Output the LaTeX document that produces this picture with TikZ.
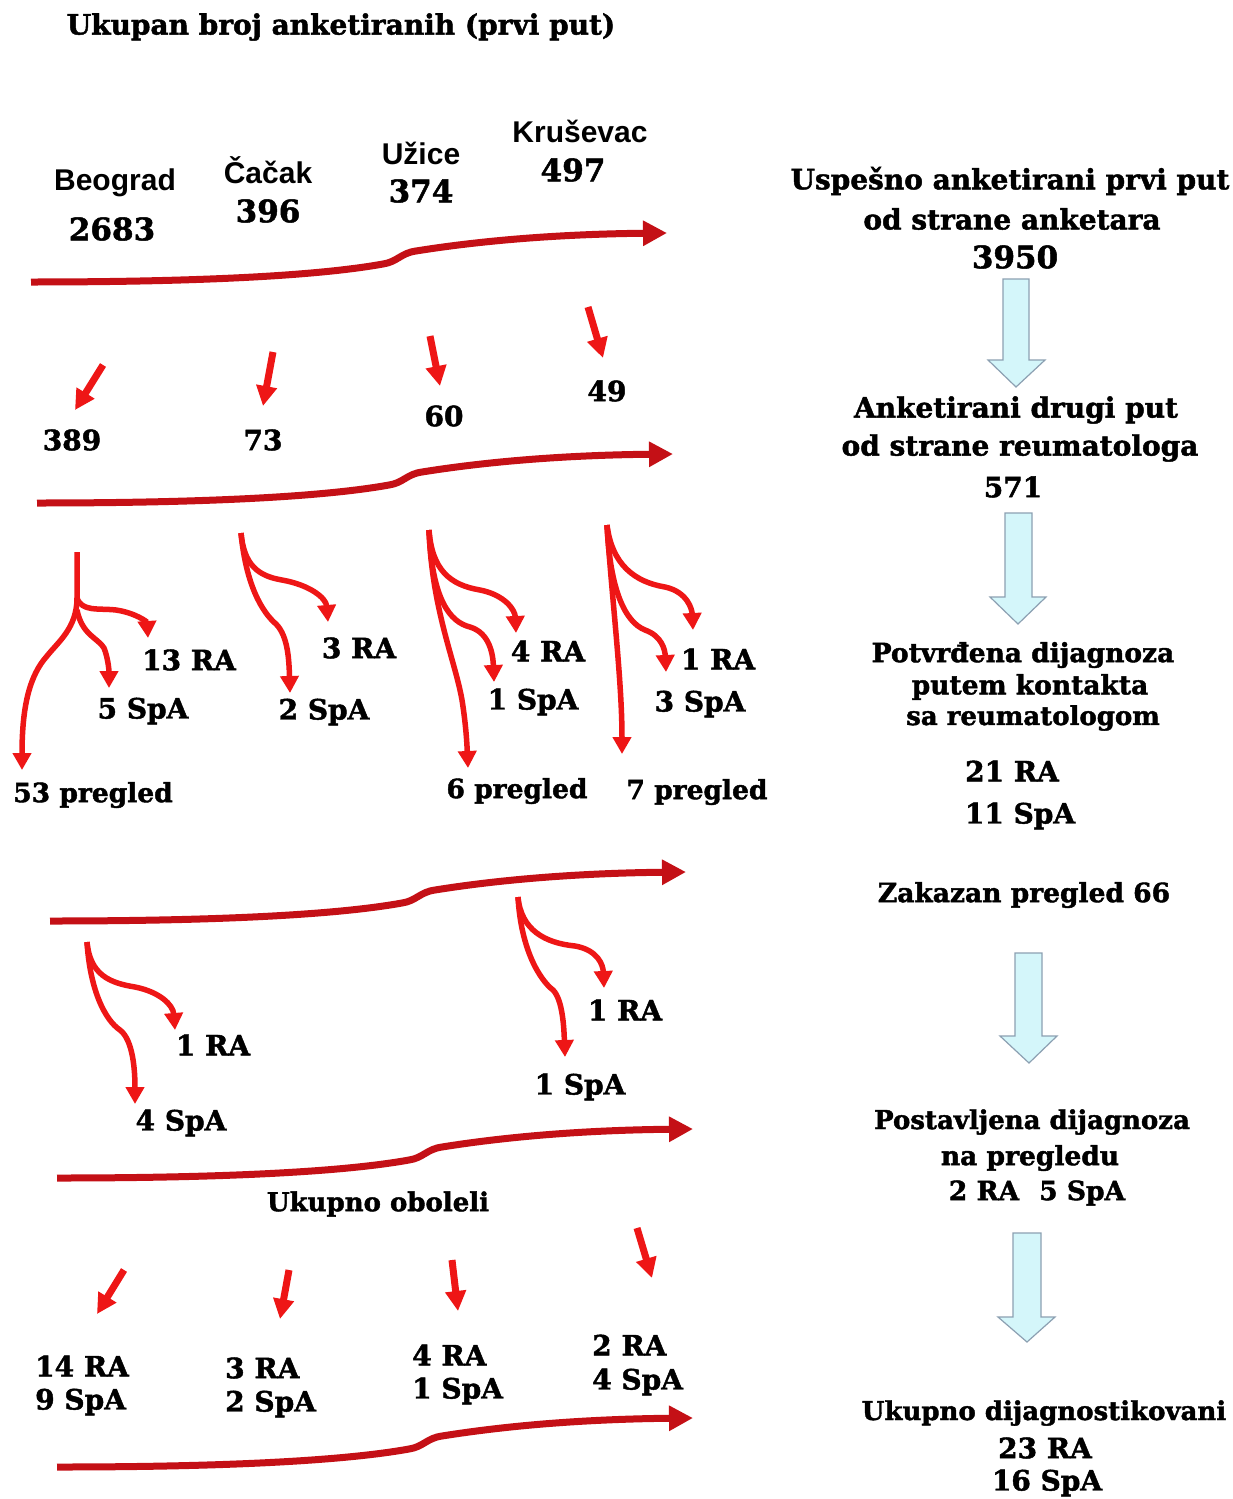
\documentclass[tikz,border=0pt]{standalone}
\usepackage{fontspec}
\setmainfont{DejaVu Serif}[BoldFont={DejaVu Serif Bold}, BoldFeatures={FakeBold=1.6}]
\newfontfamily\citysans{Liberation Sans}
\usetikzlibrary{arrows.meta}
\definecolor{flowred}{RGB}{196,16,22}
\definecolor{brred}{RGB}{238,22,22}
\definecolor{blkfill}{RGB}{212,246,250}
\definecolor{blkline}{RGB}{140,160,178}
\tikzset{
  hv/.style={font=\fontsize{28}{32}\selectfont\bfseries, inner sep=0pt},
  hvs/.style={font=\fontsize{26.5}{30}\selectfont\bfseries, inner sep=0pt},
  hvxs/.style={font=\fontsize{26}{30}\selectfont\bfseries, inner sep=0pt},
  hvbig/.style={font=\fontsize{31}{35}\selectfont\bfseries, inner sep=0pt},
  city/.style={font=\citysans\fontsize{30}{34}\selectfont\bfseries, inner sep=0pt},
  flowarrow/.style={draw=flowred, line width=7pt, -{Triangle[length=24pt,width=24pt]}},
  smallarrow/.style={draw=brred, line width=7pt, -{Triangle[length=20pt,width=20pt]}},
  brancharrow/.style={draw=brred, line width=5.5pt, -{Triangle[length=17pt,width=18pt]}},
  blockarrow/.style={fill=blkfill, draw=blkline, line width=1.2pt, line join=miter},
}
\begin{document}
\begin{tikzpicture}[x=1pt,y=-1pt]
\useasboundingbox[fill=white] (0,0) rectangle (1233,1499);

% ---------- title ----------
\node[hv] (title) at (341,27) {Ukupan broj anketiranih (prvi put)};

% ---------- cities ----------
\node[city] (bg) at (115,183) {Beograd};
\node[hvbig] (bgn) at (112,229) {2683};
\node[city] (ca) at (268,170) {Čačak};
\node[hvbig] (can) at (268,211) {396};
\node[city] (uz) at (421,153) {Užice};
\node[hvbig] (uzn) at (421,191) {374};
\node[city] (kr) at (580,131) {Kruševac};
\node[hvbig] (krn) at (573,170) {497};

% ---------- flow arrows ----------
\foreach \xo/\yo in {31/282, 37/503, 50/921, 57/1178, 57/1467}{
  \draw[flowarrow, shift={(\xo,\yo)}] (0,0) .. controls (150,0) and (280,-5) .. (352,-18)
     .. controls (366,-20) and (370,-29) .. (385,-31)
     .. controls (460,-43) and (540,-48) .. (636,-49);
}

% ---------- first row of small arrows ----------
\coordinate (a1s) at (103,365); \coordinate (a1e) at (75,410);
\coordinate (a2s) at (273,352); \coordinate (a2e) at (263,406);
\coordinate (a3s) at (430,336); \coordinate (a3e) at (440,386);
\coordinate (a4s) at (588,307); \coordinate (a4e) at (603,358);
\draw[smallarrow] (a1s) -- (a1e);
\draw[smallarrow] (a2s) -- (a2e);
\draw[smallarrow] (a3s) -- (a3e);
\draw[smallarrow] (a4s) -- (a4e);
\node[hv] (n389) at (72,440) {389};
\node[hv] (n73) at (263,440) {73};
\node[hv] (n60) at (444,416) {60};
\node[hv] (n49) at (607,391) {49};

% ---------- branch arrows (second stage) ----------
% Beograd
\coordinate (b1) at (77,552); \coordinate (b1k) at (77,598);
\draw[brancharrow] (b1) -- (b1k) .. controls (77,628) and (58,642) .. (47,656)
   .. controls (30,675) and (22,705) .. (22,770);
\draw[brancharrow] (b1k) .. controls (82,612) and (98,608) .. (116,610)
   .. controls (136,613) and (147,622) .. (148,638);
\draw[brancharrow] (77,610) .. controls (82,635) and (98,638) .. (104,648)
   .. controls (108,658) and (109,670) .. (109,688);
\node[hv] (b13ra) at (189,660) {13 RA};
\node[hv] (b5spa) at (143,711) {5 SpA};
\node[hvs] (b53) at (93,795) {53 pregled};
% Cacak
\coordinate (c1) at (241,533);
\draw[brancharrow] (c1) .. controls (244,565) and (258,576) .. (282,580)
   .. controls (310,585) and (326,598) .. (328,622);
\draw[brancharrow] (c1) .. controls (246,585) and (262,612) .. (276,624)
   .. controls (288,636) and (289,660) .. (290,693);
\node[hv] (c3ra) at (359,648) {3 RA};
\node[hv] (c2spa) at (324,712) {2 SpA};
% Uzice
\coordinate (u1) at (429,530);
\draw[brancharrow] (u1) .. controls (432,570) and (450,585) .. (480,590)
   .. controls (505,595) and (515,610) .. (516,633);
\draw[brancharrow] (u1) .. controls (432,600) and (450,622) .. (470,627)
   .. controls (490,633) and (493,655) .. (494,682);
\draw[brancharrow] (u1) .. controls (432,610) and (455,660) .. (462,700)
   .. controls (466,725) and (467,745) .. (468,768);
\node[hv] (u4ra) at (548,651) {4 RA};
\node[hv] (u1spa) at (533,702) {1 SpA};
\node[hvs] (u6) at (517,791) {6 pregled};
% Krusevac
\coordinate (k1) at (607,525);
\draw[brancharrow] (k1) .. controls (612,565) and (635,582) .. (665,587)
   .. controls (688,592) and (692,610) .. (693,630);
\draw[brancharrow] (k1) .. controls (610,590) and (625,622) .. (645,630)
   .. controls (662,636) and (665,650) .. (666,672);
\draw[brancharrow] (k1) .. controls (612,600) and (622,680) .. (622,754);
\node[hv] (k1ra) at (718,659) {1 RA};
\node[hv] (k3spa) at (700,704) {3 SpA};
\node[hvs] (k7) at (697,792) {7 pregled};

% ---------- branch arrows (third stage) ----------
\coordinate (l1) at (87,942);
\draw[brancharrow] (l1) .. controls (90,975) and (110,983) .. (135,987)
   .. controls (160,992) and (173,1005) .. (175,1030);
\draw[brancharrow] (l1) .. controls (90,990) and (105,1020) .. (120,1030)
   .. controls (133,1040) and (135,1070) .. (135,1104);
\node[hv] (l1ra) at (213,1045) {1 RA};
\node[hv] (l4spa) at (181,1123) {4 SpA};
\coordinate (r1) at (518,897);
\draw[brancharrow] (r1) .. controls (521,930) and (545,943) .. (575,946)
   .. controls (598,950) and (603,965) .. (604,988);
\draw[brancharrow] (r1) .. controls (521,950) and (540,980) .. (553,990)
   .. controls (563,1000) and (564,1030) .. (565,1057);
\node[hv] (r1ra) at (625,1010) {1 RA};
\node[hv] (r1spa) at (580,1087) {1 SpA};

\node[hvxs] (uo) at (378,1204) {Ukupno oboleli};

% ---------- last row of small arrows ----------
\coordinate (d1s) at (124,1270); \coordinate (d1e) at (97,1314);
\coordinate (d2s) at (289,1270); \coordinate (d2e) at (280,1319);
\coordinate (d3s) at (452,1260); \coordinate (d3e) at (458,1311);
\coordinate (d4s) at (637,1228); \coordinate (d4e) at (652,1278);
\draw[smallarrow] (d1s) -- (d1e);
\draw[smallarrow] (d2s) -- (d2e);
\draw[smallarrow] (d3s) -- (d3e);
\draw[smallarrow] (d4s) -- (d4e);
\node[hv, anchor=west] (t1a) at (35,1366) {14 RA};
\node[hv, anchor=west] (t1b) at (35,1402) {9 SpA};
\node[hv, anchor=west] (t2a) at (225,1368) {3 RA};
\node[hv, anchor=west] (t2b) at (225,1404) {2 SpA};
\node[hv, anchor=west] (t3a) at (412,1355) {4 RA};
\node[hv, anchor=west] (t3b) at (412,1391) {1 SpA};
\node[hv, anchor=west] (t4a) at (592,1345) {2 RA};
\node[hv, anchor=west] (t4b) at (592,1382) {4 SpA};

% ---------- right column ----------
\node[hv] (r11) at (1010,181) {Uspešno anketirani prvi put};
\node[hv] (r12) at (1012,219) {od strane anketara};
\node[hvbig] (r13) at (1015,257) {3950};
\draw[blockarrow] (1003,279) -- (1029,279) -- (1029,360) -- (1045,360) -- (1016,387) -- (988,360) -- (1003,360) -- cycle;
\node[hv] (r21) at (1016,410) {Anketirani drugi put};
\node[hv] (r22) at (1020,448) {od strane reumatologa};
\node[hv] (r23) at (1013,487) {571};
\draw[blockarrow] (1005,513) -- (1032,513) -- (1032,597) -- (1046,597) -- (1018,624) -- (990,597) -- (1005,597) -- cycle;
\node[hvs] (r31) at (1023,655) {Potvrđena dijagnoza};
\node[hvs] (r32) at (1030,687) {putem kontakta};
\node[hvxs] (r33) at (1033,718) {sa reumatologom};
\node[hv] (r34) at (1012,771) {21 RA};
\node[hv] (r35) at (1020,816) {11 SpA};
\node[hvs] (r4) at (1024,895) {Zakazan pregled 66};
\draw[blockarrow] (1015,953) -- (1042,953) -- (1042,1036) -- (1057,1036) -- (1029,1063) -- (1000,1036) -- (1015,1036) -- cycle;
\node[hvxs] (r51) at (1032,1122) {Postavljena dijagnoza};
\node[hvs] (r52) at (1030,1158) {na pregledu};
\node[hvs] (r53) at (1037,1193) {2 RA\hspace{20pt}5 SpA};
\draw[blockarrow] (1013,1233) -- (1041,1233) -- (1041,1317) -- (1055,1317) -- (1027,1342) -- (998,1317) -- (1013,1317) -- cycle;
\node[hvxs] (r61) at (1044,1413) {Ukupno dijagnostikovani};
\node[hv] (r62) at (1045,1448) {23 RA};
\node[hv] (r63) at (1047,1483) {16 SpA};
\end{tikzpicture}
\end{document}
